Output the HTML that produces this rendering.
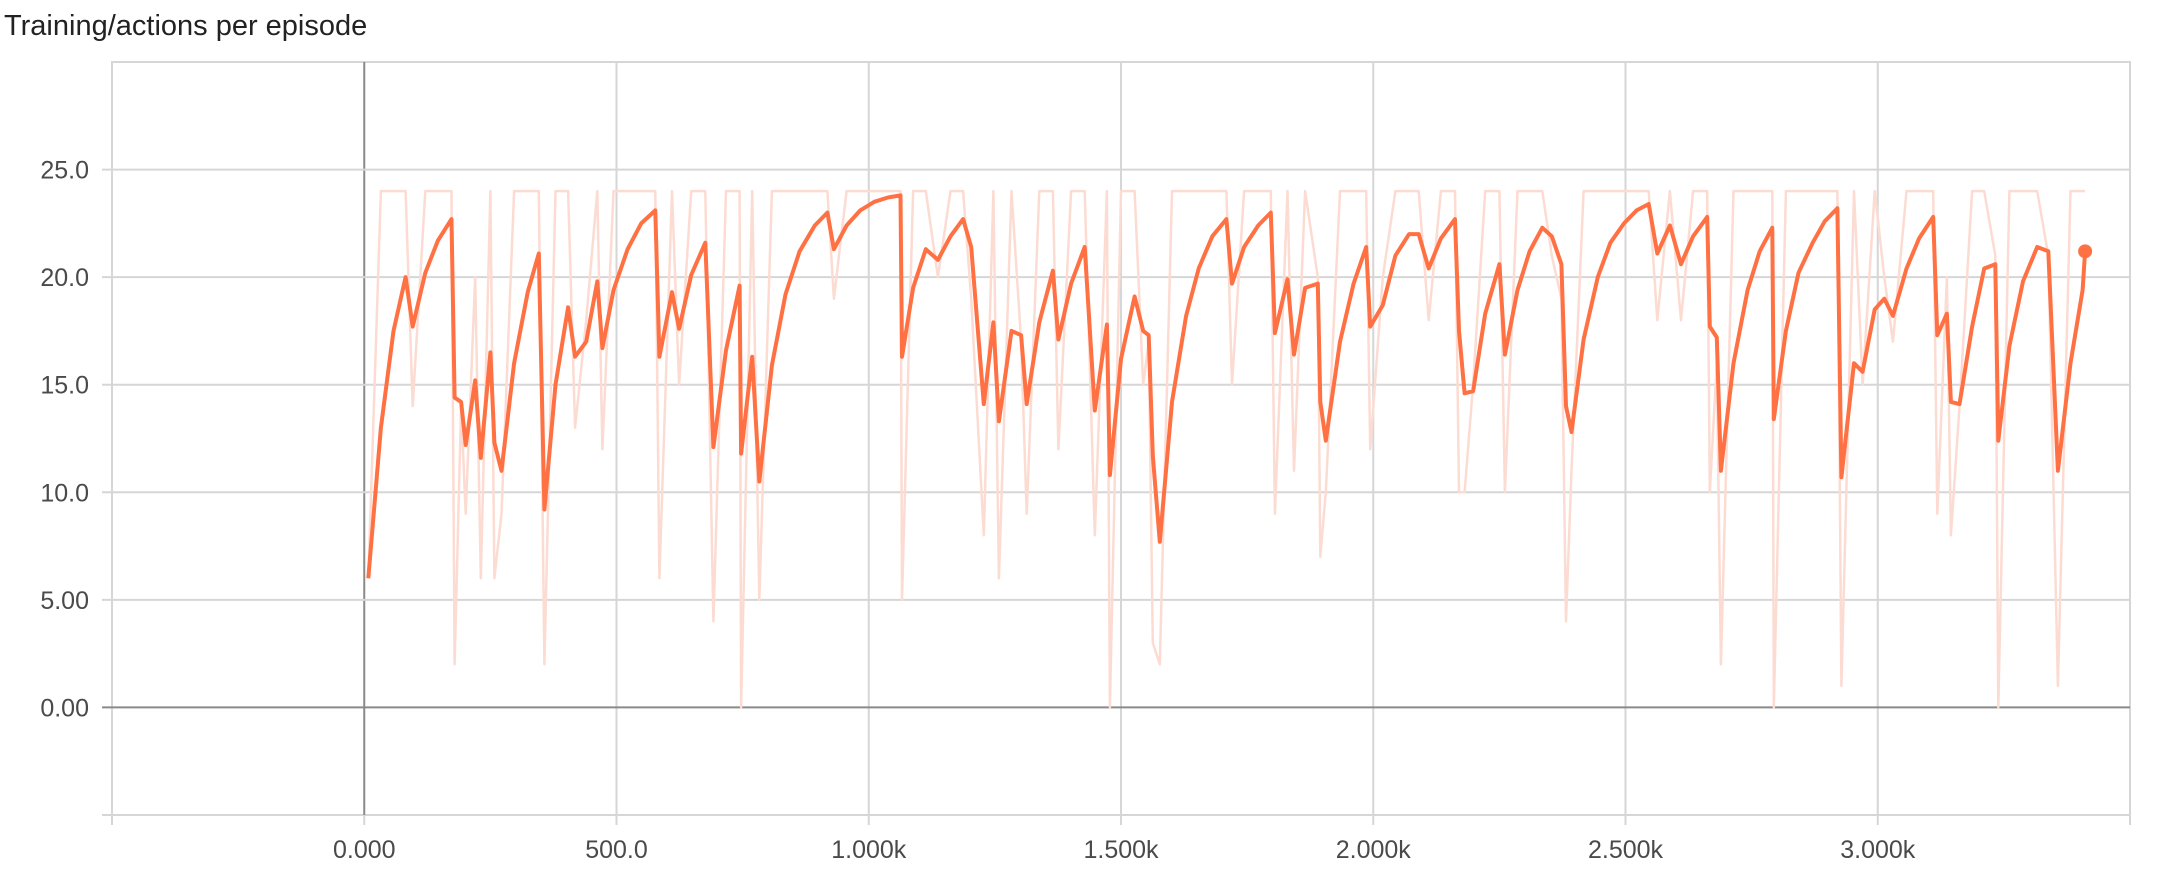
<!DOCTYPE html>
<html><head><meta charset="utf-8"><style>
body{margin:0;background:#fff;width:2160px;height:868px;overflow:hidden;font-family:"Liberation Sans",sans-serif}
</style></head><body>
<svg id="chart" width="2160" height="868" xmlns="http://www.w3.org/2000/svg">
<text x="4" y="35" font-family="Liberation Sans, sans-serif" font-size="29" fill="#222">Training/actions per episode</text>
<g id="grid"></g><g id="raw"></g><g id="smooth"></g><g id="labels"></g>
</svg>
<script>
const steps=[8,33,58,82,96,121,146,173,179,192,201,220,231,250,258,272,297,324,346,357,379,404,418,440,462,472,494,522,549,577,585,610,624,648,676,692,717,744,747,769,783,808,835,863,893,918,931,956,983,1011,1038,1063,1066,1088,1113,1137,1162,1187,1203,1228,1247,1258,1283,1302,1313,1338,1365,1376,1401,1428,1448,1472,1478,1500,1527,1544,1555,1563,1577,1601,1629,1654,1681,1709,1720,1744,1772,1797,1805,1830,1843,1865,1890,1895,1906,1934,1961,1986,1994,2019,2044,2071,2090,2110,2134,2162,2170,2181,2198,2222,2250,2261,2286,2310,2335,2354,2373,2382,2393,2417,2445,2470,2497,2522,2546,2563,2588,2610,2634,2662,2667,2681,2689,2714,2742,2766,2791,2794,2818,2843,2871,2895,2920,2928,2953,2970,2994,3013,3030,3057,3082,3110,3118,3137,3145,3162,3187,3211,3233,3239,3261,3288,3316,3338,3357,3382,3406,3411];
const smoothed=[6,13,17.5,20,17.7,20.2,21.7,22.7,14.4,14.2,12.2,15.2,11.6,16.5,12.3,11,16,19.3,21.1,9.2,15,18.6,16.3,17,19.8,16.7,19.4,21.3,22.5,23.1,16.3,19.3,17.6,20.1,21.6,12.1,16.6,19.6,11.8,16.3,10.5,15.9,19.2,21.2,22.4,23,21.3,22.4,23.1,23.5,23.7,23.8,16.3,19.5,21.3,20.8,21.9,22.7,21.4,14.1,17.9,13.3,17.5,17.3,14.1,17.9,20.3,17.1,19.7,21.4,13.8,17.8,10.8,16.2,19.1,17.5,17.3,11.7,7.7,14.2,18.2,20.4,21.9,22.7,19.7,21.4,22.4,23,17.4,19.9,16.4,19.5,19.7,14.2,12.4,17,19.7,21.4,17.7,18.7,21,22,22,20.4,21.8,22.7,17.5,14.6,14.7,18.3,20.6,16.4,19.4,21.2,22.3,21.9,20.6,14,12.8,17.1,20,21.6,22.5,23.1,23.4,21.1,22.4,20.6,21.9,22.8,17.7,17.2,11,16,19.4,21.2,22.3,13.4,17.5,20.2,21.6,22.6,23.2,10.7,16,15.6,18.5,19,18.2,20.4,21.8,22.8,17.3,18.3,14.2,14.1,17.7,20.4,20.6,12.4,16.8,19.8,21.4,21.2,11,16,19.4,21.2];
const raw=[6,24,24,24,14,24,24,24,2,14,9,20,6,24,6,9,24,24,24,2,24,24,13,18,24,12,24,24,24,24,6,24,15,24,24,4,24,24,0,24,5,24,24,24,24,24,19,24,24,24,24,24,5,24,24,20,24,24,19,8,24,6,24,17,9,24,24,12,24,24,8,24,0,24,24,15,17,3,2,24,24,24,24,24,15,24,24,24,9,24,11,24,20,7,10,24,24,24,12,20,24,24,24,18,24,24,10,10,15,24,24,10,24,24,24,21,19,4,11,24,24,24,24,24,24,18,24,18,24,24,10,16,2,24,24,24,24,0,24,24,24,24,24,1,24,15,24,20,17,24,24,24,9,20,8,14,24,24,21,0,24,24,24,21,1,24,24,24];
const yTicks=[25,20,15,10,5,0];
const yTickLabels=["25.0","20.0","15.0","10.0","5.00","0.00"];
const xTicks=[0,500,1000,1500,2000,2500,3000];
const xTickLabels=["0.000","500.0","1.000k","1.500k","2.000k","2.500k","3.000k"];
const xMin=-500,xMax=3500,yMin=-5,yMax=30;
const L=112,R=2130,T=62,B=815;
const NS="http://www.w3.org/2000/svg";
function xs(v){return L+(v-xMin)/(xMax-xMin)*(R-L);}
function ys(v){return B-(v-yMin)/(yMax-yMin)*(B-T);}
function mk(tag,attrs,parent){const e=document.createElementNS(NS,tag);for(const k in attrs)e.setAttribute(k,attrs[k]);parent.appendChild(e);return e;}
const grid=document.getElementById('grid'),lab=document.getElementById('labels');
const frame=mk('rect',{x:L,y:T,width:R-L,height:B-T,fill:'none',stroke:'#d6d6d6','stroke-width':2},grid);


const bl=mk('line',{x1:L-10,x2:R,y1:B,y2:B,stroke:'#d6d6d6','stroke-width':2},grid);


for(let v=xMin+500;v<xMax;v+=500){const g=mk('line',{x1:xs(v),x2:xs(v),y1:T,y2:B,stroke:v===0?'#8a8a8a':'#d6d6d6','stroke-width':2},grid);

}
for(let v=xMin;v<=xMax;v+=500){const t=mk('line',{x1:xs(v),x2:xs(v),y1:B,y2:B+10,stroke:'#d6d6d6','stroke-width':2},grid);

}
yTicks.forEach((v,i)=>{const g=mk('line',{x1:L-10,x2:R,y1:ys(v),y2:ys(v),stroke:v===0?'#8a8a8a':'#d6d6d6','stroke-width':2},grid);


const t=mk('text',{x:89,y:ys(v)+9,'text-anchor':'end','font-size':25,fill:'#4a4a4a','font-family':'Liberation Sans, sans-serif'},lab);t.textContent=yTickLabels[i];

});
xTicks.forEach((v,i)=>{const t=mk('text',{x:xs(v),y:858,'text-anchor':'middle','font-size':25,fill:'#4a4a4a','font-family':'Liberation Sans, sans-serif'},lab);t.textContent=xTickLabels[i];

});
function pts(arr){return steps.slice(0,arr.length).map((s,i)=>xs(s).toFixed(1)+','+ys(arr[i]).toFixed(1)).join(' ');}
const rl=mk('polyline',{points:pts(raw),fill:'none',stroke:'#fcdcd2','stroke-width':2.5,'stroke-linejoin':'round'},document.getElementById('raw'));


const sl=mk('polyline',{points:pts(smoothed),fill:'none',stroke:'#ff7043','stroke-width':4,'stroke-linejoin':'round'},document.getElementById('smooth'));


const n=smoothed.length-1;
const dot=mk('circle',{cx:xs(steps[n]),cy:ys(smoothed[n]),r:7,fill:'#ff7043'},document.getElementById('smooth'));


</script>
</body></html>
